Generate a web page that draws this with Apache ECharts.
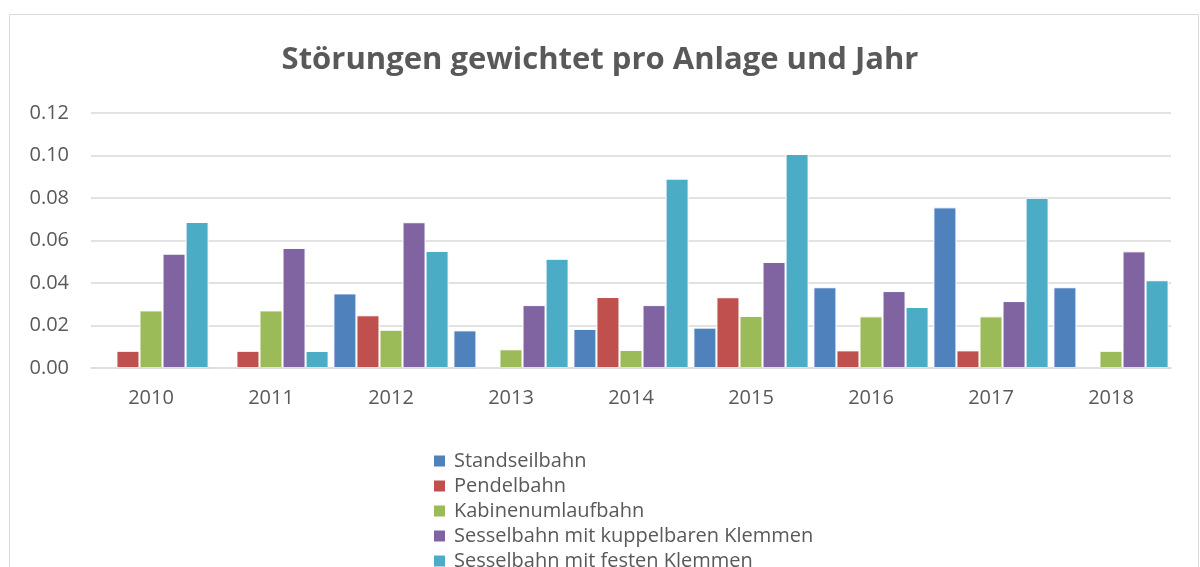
<!DOCTYPE html>
<html>
<head>
<meta charset="utf-8">
<script src="https://cdn.jsdelivr.net/npm/echarts@6/dist/echarts.min.js"></script>
<style>
  html, body { margin: 0; padding: 0; background: #fff; }
  #chart { width: 1200px; height: 567px; }
</style>
</head>
<body>
<div id="chart"></div>
<script>
  var years = ["2010", "2011", "2012", "2013", "2014", "2015", "2016", "2017", "2018"];
  var standseilbahn = [0, 0, 0.0351, 0.0177, 0.0184, 0.019, 0.038, 0.0756, 0.038];
  var pendelbahn = [0.0081, 0.0081, 0.0248, 0, 0.0334, 0.0333, 0.0083, 0.0083, 0];
  var kabinen = [0.0271, 0.0271, 0.018, 0.0088, 0.0085, 0.0245, 0.0243, 0.0243, 0.0081];
  var sesselKuppel = [0.0538, 0.0565, 0.0686, 0.0296, 0.0296, 0.0499, 0.0362, 0.0315, 0.0549];
  var sesselFest = [0.0687, 0.008, 0.0551, 0.0514, 0.0891, 0.1007, 0.0287, 0.0801, 0.0413];

  var names = [
    "Standseilbahn",
    "Pendelbahn",
    "Kabinenumlaufbahn",
    "Sesselbahn mit kuppelbaren Klemmen",
    "Sesselbahn mit festen Klemmen"
  ];
  var colors = ["#4F81BD", "#C0504D", "#9BBB59", "#8064A2", "#4BACC6"];
  var values = [standseilbahn, pendelbahn, kabinen, sesselKuppel, sesselFest];

  var myChart = echarts.init(document.getElementById("chart"));
  var font = "'Open Sans', sans-serif";

  var series = names.map(function (n, i) {
    return {
      name: n,
      type: "bar",
      data: values[i],
      barGap: "0%",
      barCategoryGap: "4%",
      itemStyle: {
        color: colors[i],
        borderColor: "#fff",
        borderWidth: 1
      }
    };
  });

  var option = {
    backgroundColor: "#fff",
    animation: false,
    textStyle: { fontFamily: font },
    graphic: [
      {
        type: "rect",
        shape: { x: 9.5, y: 14.5, width: 1189, height: 560 },
        style: { fill: "none", stroke: "#d9d9d9", lineWidth: 1 },
        silent: true,
        z: -1
      }
    ],
    title: {
      text: "Störungen gewichtet pro Anlage und Jahr",
      left: "center",
      top: 40,
      textStyle: {
        color: "#595959",
        fontSize: 31,
        fontWeight: "bold",
        fontFamily: font
      }
    },
    grid: {
      left: 91,
      right: 29,
      top: 113,
      bottom: 199
    },
    legend: {
      orient: "vertical",
      left: 432,
      top: 451,
      height: 200,
      padding: 0,
      itemWidth: 13,
      itemHeight: 13,
      itemGap: 5,
      icon: "rect",
      textStyle: {
        color: "#595959",
        fontSize: 20,
        lineHeight: 18,
        fontFamily: font,
        padding: [0, 0, 0, 3]
      },
      data: names
    },
    xAxis: {
      type: "category",
      data: years,
      z: 3,
      axisTick: { show: false },
      axisLine: { lineStyle: { color: "#d9d9d9", width: 1.5 } },
      axisLabel: {
        color: "#595959",
        fontSize: 20,
        margin: 20,
        fontFamily: font
      }
    },
    yAxis: {
      type: "value",
      min: 0,
      max: 0.12,
      interval: 0.02,
      axisLine: { show: false },
      axisTick: { show: false },
      splitLine: { lineStyle: { color: "#d9d9d9", width: 1.5 } },
      axisLabel: {
        color: "#595959",
        fontSize: 20,
        margin: 22,
        fontFamily: font,
        formatter: function (v) { return v.toFixed(2); }
      }
    },
    series: series
  };
  myChart.setOption(option);
</script>
</body>
</html>
